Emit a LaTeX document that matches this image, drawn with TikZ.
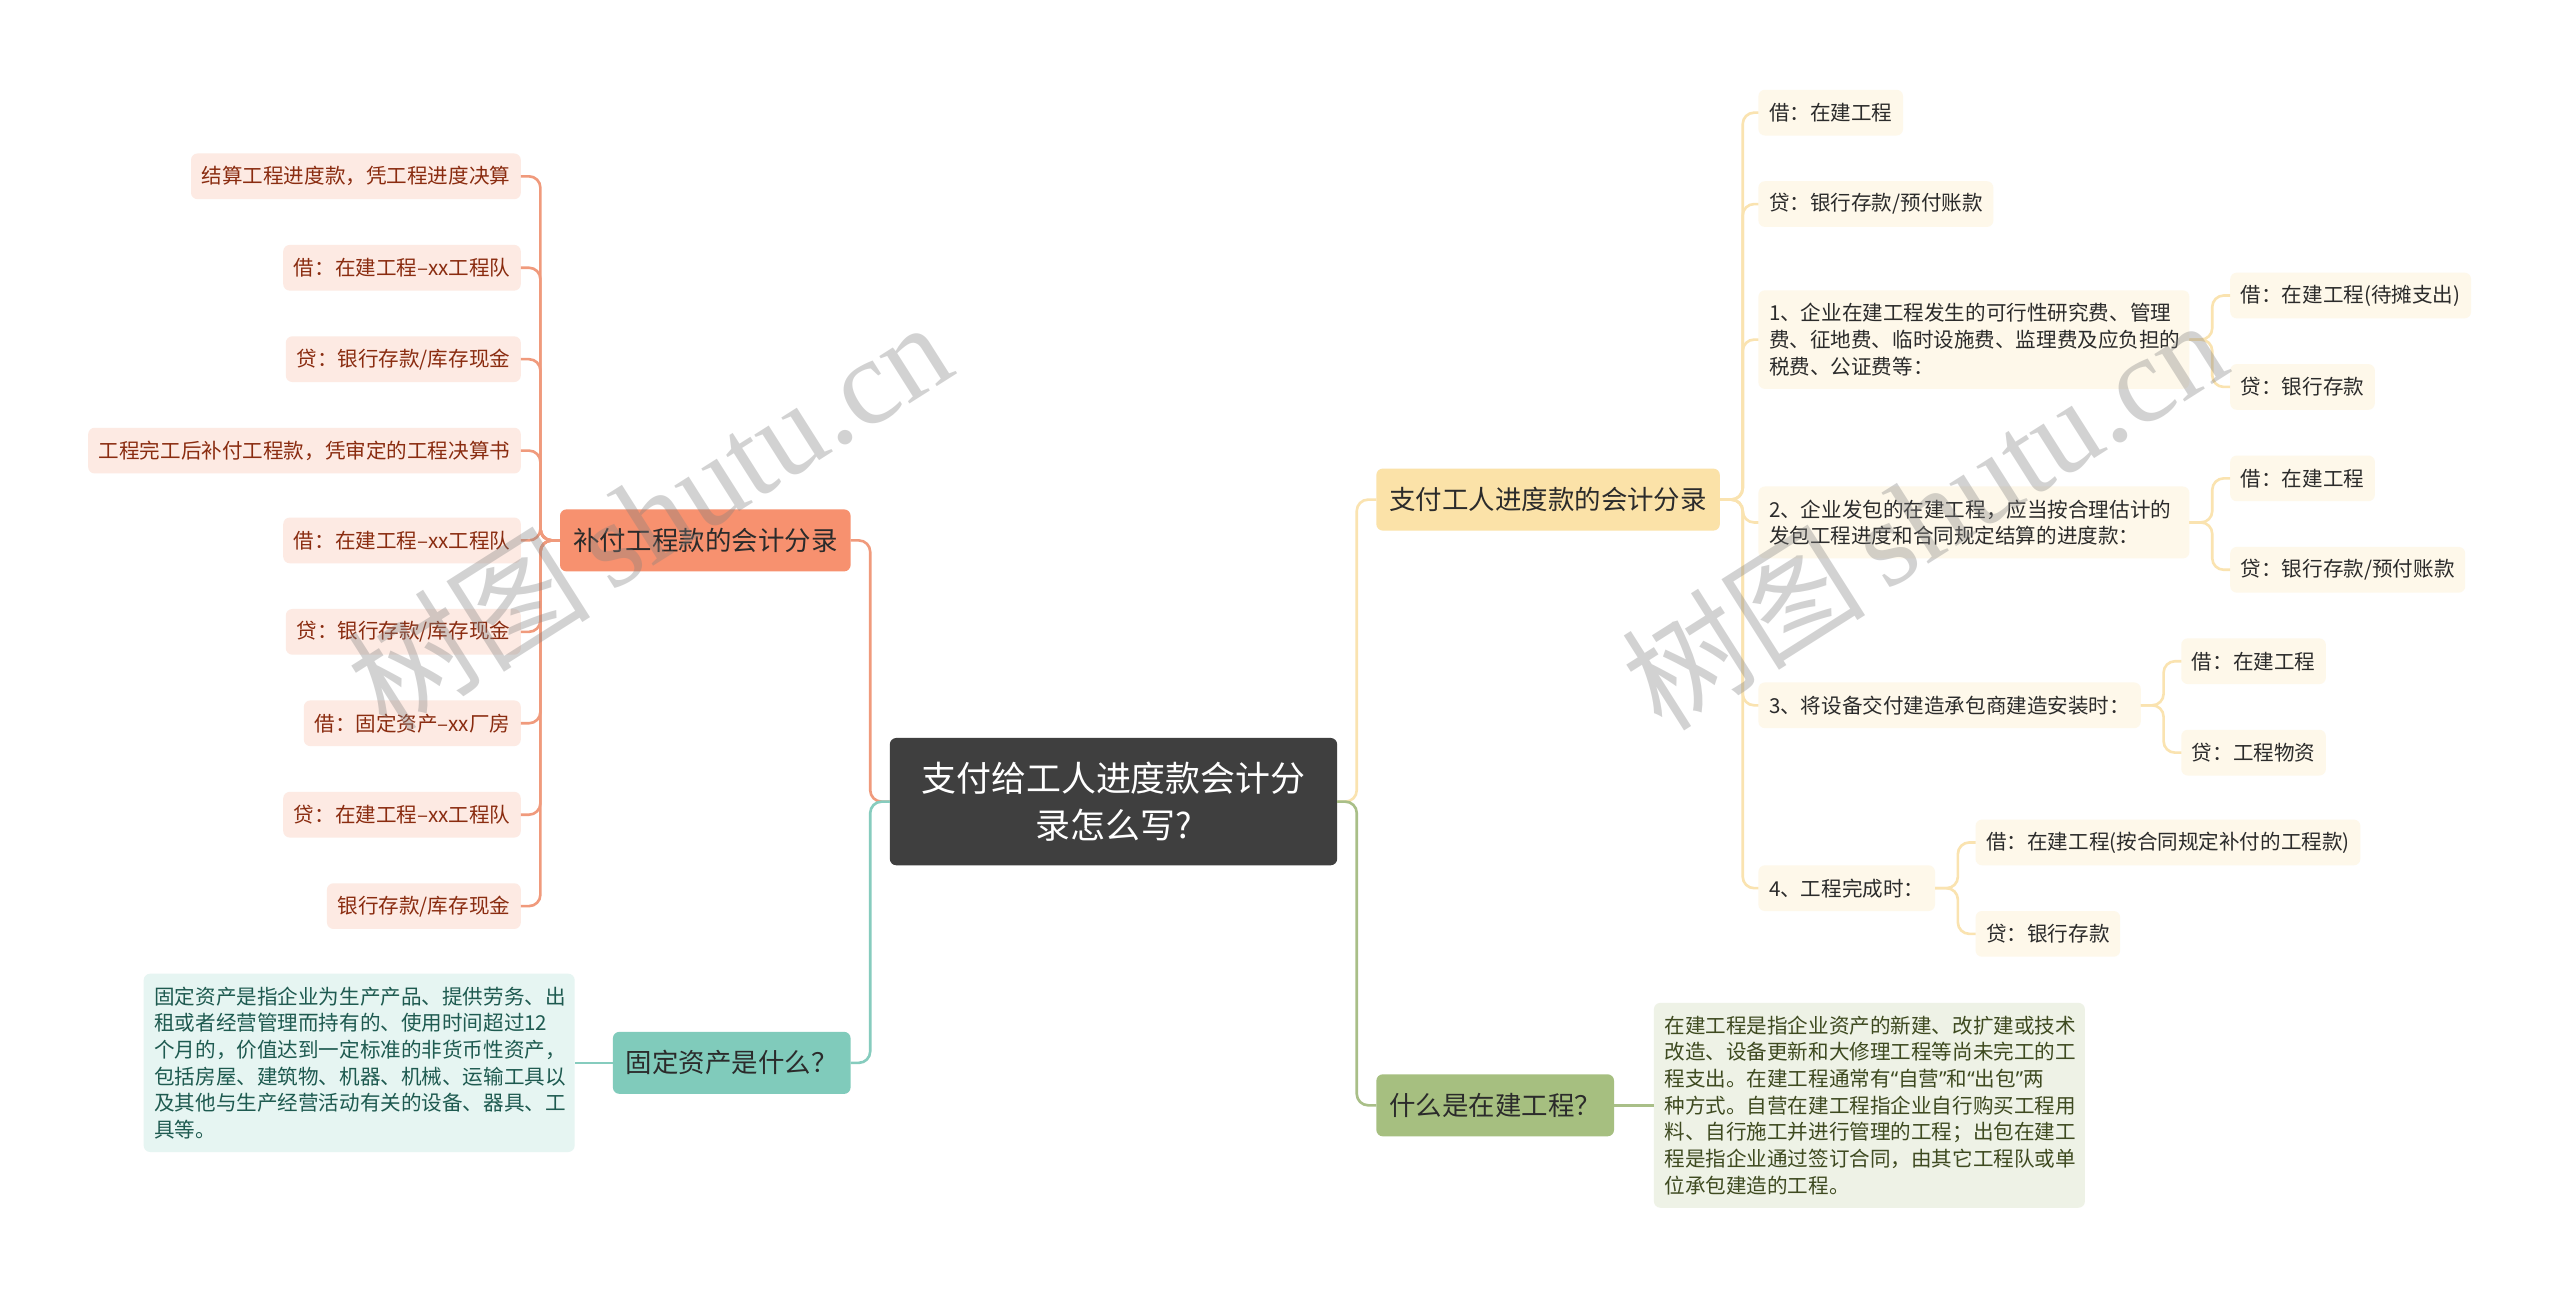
\documentclass[tikz,border=0pt]{standalone}
\usepackage{fontspec}
\setmainfont{Noto Sans CJK SC}
\newfontfamily\wmserif{Liberation Serif}
\newfontfamily\latq{Noto Sans}
\usetikzlibrary{positioning,calc}
\definecolor{rootc}{HTML}{3F3F3F}
\definecolor{orfill}{HTML}{F7916F}
\definecolor{orline}{HTML}{F09A7C}
\definecolor{orleaf}{HTML}{FDEAE3}
\definecolor{ortext}{HTML}{8A2C10}
\definecolor{tefill}{HTML}{80CBBB}
\definecolor{teline}{HTML}{86CCBE}
\definecolor{teleaf}{HTML}{E6F5F2}
\definecolor{tetext}{HTML}{1E5A50}
\definecolor{yefill}{HTML}{FBE2A8}
\definecolor{yeline}{HTML}{FAE3B0}
\definecolor{yeleaf}{HTML}{FEF8EA}
\definecolor{grfill}{HTML}{A6BF80}
\definecolor{grline}{HTML}{A9BF88}
\definecolor{grleaf}{HTML}{EEF2E6}
\definecolor{grtext}{HTML}{3E4A20}
\definecolor{darktext}{HTML}{2B2B2B}
\begin{document}
\begin{tikzpicture}[x=1pt,y=-1pt,
  every node/.style={inner sep=0pt, outer sep=0pt},
  rootbox/.style={fill=rootc, rounded corners=4pt, text=white, minimum width=274pt, minimum height=78pt, align=center, font=\fontsize{21.4pt}{29pt}\selectfont},
  branchbox/.style={rounded corners=4pt, minimum height=38pt, inner xsep=8pt, text=darktext, font=\fontsize{16.2pt}{20pt}\selectfont},
  leafbox/.style={rounded corners=4pt, minimum height=28pt, inner xsep=6.5pt, font=\fontsize{12.6pt}{16.3pt}\selectfont},
  para/.style={rounded corners=4pt, inner xsep=6.5pt, inner ysep=8pt, text width=251pt, align=left, font=\fontsize{12.6pt}{16.3pt}\selectfont},
  oleaf/.style={leafbox, fill=orleaf, text=ortext},
  yleaf/.style={leafbox, fill=yeleaf, text=darktext},
  conn/.style={line width=1.6pt, rounded corners=7pt},
  wm/.style={text=gray, opacity=0.35, rotate=32.4}
]
\path[use as bounding box, fill=white] (0,0) rectangle (1568,794);

% root
\node[rootbox] (root) at (682,491) {支付给工人进度款会计分\\录怎么写?};

% main branches
\node[branchbox, fill=orfill, anchor=east] (b1) at (521,331) {补付工程款的会计分录};
\node[branchbox, fill=tefill, anchor=east] (b2) at (521,651) {固定资产是什么？};
\node[branchbox, fill=yefill, anchor=west] (r1) at (843,306) {支付工人进度款的会计分录};
\node[branchbox, fill=grfill, anchor=west] (r2) at (843,677) {什么是在建工程？};

% left leaves
\node[oleaf, anchor=east] (l1) at (319,108) {结算工程进度款，凭工程进度决算};
\node[oleaf, anchor=east] (l2) at (319,164) {借：在建工程–xx工程队};
\node[oleaf, anchor=east] (l3) at (319,220) {贷：银行存款/库存现金};
\node[oleaf, anchor=east] (l4) at (319,276) {工程完工后补付工程款，凭审定的工程决算书};
\node[oleaf, anchor=east] (l5) at (319,331) {借：在建工程–xx工程队};
\node[oleaf, anchor=east] (l6) at (319,387) {贷：银行存款/库存现金};
\node[oleaf, anchor=east] (l7) at (319,443) {借：固定资产–xx厂房};
\node[oleaf, anchor=east] (l8) at (319,499) {贷：在建工程–xx工程队};
\node[oleaf, anchor=east] (l9) at (319,555) {银行存款/库存现金};

% fixed asset text
\node[para, fill=teleaf, text=tetext, anchor=east] (fa) at (352,651) {固定资产是指企业为生产产品、提供劳务、出\\租或者经营管理而持有的、使用时间超过12\\个月的，价值达到一定标准的非货币性资产，\\包括房屋、建筑物、机器、机械、运输工具以\\及其他与生产经营活动有关的设备、器具、工\\具等。};

% right leaves
\node[yleaf, anchor=west] (y1) at (1077,69) {借：在建工程};
\node[yleaf, anchor=west] (y2) at (1077,125) {贷：银行存款/预付账款};
\node[para, fill=yeleaf, text=darktext, anchor=west] (y3) at (1077,208) {1、企业在建工程发生的可行性研究费、管理\\费、征地费、临时设施费、监理费及应负担的\\税费、公证费等：};
\node[para, fill=yeleaf, text=darktext, anchor=west] (y4) at (1077,320) {2、企业发包的在建工程，应当按合理估计的\\发包工程进度和合同规定结算的进度款：};
\node[yleaf, anchor=west] (y5) at (1077,432) {3、将设备交付建造承包商建造安装时：};
\node[yleaf, anchor=west] (y6) at (1077,544) {4、工程完成时：};

\node[yleaf, anchor=west] (y3a) at (1366,181) {借：在建工程(待摊支出)};
\node[yleaf, anchor=west] (y3b) at (1366,237) {贷：银行存款};
\node[yleaf, anchor=west] (y4a) at (1366,293) {借：在建工程};
\node[yleaf, anchor=west] (y4b) at (1366,349) {贷：银行存款/预付账款};
\node[yleaf, anchor=west] (y5a) at (1336,405) {借：在建工程};
\node[yleaf, anchor=west] (y5b) at (1336,461) {贷：工程物资};
\node[yleaf, anchor=west] (y6a) at (1210,516) {借：在建工程(按合同规定补付的工程款)};
\node[yleaf, anchor=west] (y6b) at (1210,572) {贷：银行存款};

% green text
\node[para, fill=grleaf, text=grtext, anchor=west] (ip) at (1013,677) {在建工程是指企业资产的新建、改扩建或技术\\改造、设备更新和大修理工程等尚未完工的工\\程支出。在建工程通常有{\latq “}自营{\latq ”}和{\latq “}出包{\latq ”}两\\种方式。自营在建工程指企业自行购买工程用\\料、自行施工并进行管理的工程；出包在建工\\程是指企业通过签订合同，由其它工程队或单\\位承包建造的工程。};

% connectors root -> branches
\draw[conn, orline] (root.west) -- ++(-12,0) |- (b1.east);
\draw[conn, teline] (root.west) -- ++(-12,0) |- (b2.east);
\draw[conn, yeline] (root.east) -- ++(12,0) |- (r1.west);
\draw[conn, grline] (root.east) -- ++(12,0) |- (r2.west);

% left leaves
\foreach \n in {l1,l2,l3,l4,l5,l6,l7,l8,l9}
  \draw[conn, orline] (b1.west) -- ++(-12,0) |- (\n.east);
\draw[conn, teline] (b2.west) -- (fa.east);

% right leaves
\foreach \n in {y1,y2,y3,y4,y5,y6}
  \draw[conn, yeline] (r1.east) -- ++(14,0) |- (\n.west);
\foreach \n in {y3a,y3b}
  \draw[conn, yeline] (y3.east) -- ++(14,0) |- (\n.west);
\foreach \n in {y4a,y4b}
  \draw[conn, yeline] (y4.east) -- ++(14,0) |- (\n.west);
\foreach \n in {y5a,y5b}
  \draw[conn, yeline] (y5.east) -- ++(14,0) |- (\n.west);
\foreach \n in {y6a,y6b}
  \draw[conn, yeline] (y6.east) -- ++(14,0) |- (\n.west);
\draw[conn, grline] (r2.east) -- (ip.west);

% watermarks
\node[wm] (wm1) at (397,315) {\fontsize{75pt}{75pt}\selectfont 树图\,{\wmserif shutu.cn}};
\node[wm] (wm2) at (1178,314) {\fontsize{75pt}{75pt}\selectfont 树图\,{\wmserif shutu.cn}};
\end{tikzpicture}
\end{document}
